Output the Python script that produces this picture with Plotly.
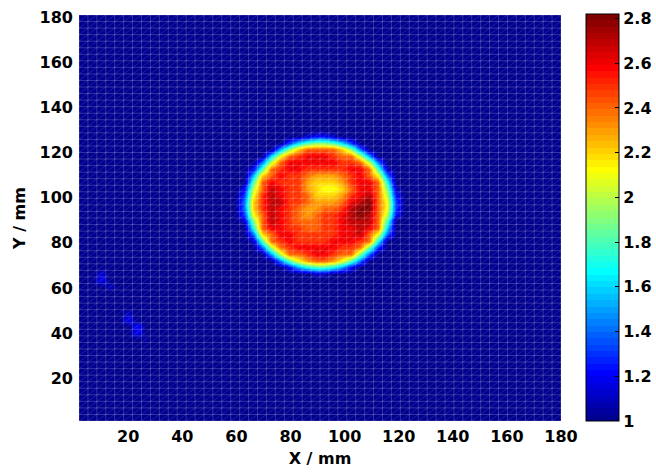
import numpy as np
import plotly.graph_objects as go

# ---- measurement grid (mm) ----
x_lo, x_hi, n_cols = 1.8, 180.0, 54
y_lo, y_hi, n_rows = 1.0, 181.0, 62
x_edges = np.linspace(x_lo, x_hi, n_cols + 1)
y_edges = np.linspace(y_lo, y_hi, n_rows + 1)
x_centers = (x_edges[:-1] + x_edges[1:]) / 2
y_centers = (y_edges[:-1] + y_edges[1:]) / 2

background_level = 1.0

# level key: '0' -> 1.0, '1' -> 1.1, ... 'I' -> 2.8
level_key = "0123456789ABCDEFGHI"

# disk region, rows listed bottom (y ~ 63 mm) to top (y ~ 130 mm),
# columns from x ~ 60 mm to x ~ 126 mm
disk_col0, disk_row0 = 17, 21
disk_rows = [
    "000000000000000000000",
    "000000000110000000000",
    "000000257887520000000",
    "0000048BDEEDB84000000",
    "00005AEEFGGFEE9400000",
    "0004AEFGGGGGFFE930000",
    "0018EFGFFFFGGGFE70000",
    "004CEGGFFFFFGGHEB4000",
    "007EGGFFEEFFGGHGE6000",
    "019EHGFEEEFFGHHHE8000",
    "03BEHGFEDEFFGHIHEA200",
    "04CFHGFEDDEEFHIIEB300",
    "04CFHHFFEDDDEGHIEB300",
    "03BFHGFFECCCDFGHEA200",
    "02AEHGFFDCBBCEGGE9100",
    "008EGFFFDCCCDFGGE7000",
    "005CEGFFEDDDEFGEB4000",
    "0028EFGGFFFFFGGE81000",
    "0004AEGGGGGGFFEA40000",
    "00006BEFGGGFEEA500000",
    "0000059CEEEEC94000000",
    "000000368998630000000",
    "000000001221000000000",
    "000000000000000000000",
]

# faint streaks in the lower-left corner
speck_cols = [2, 2, 3, 5, 5, 6, 6, 7]
speck_rows = [22, 21, 20, 16, 15, 14, 13, 12]
speck_vals = [1.15, 1.2, 1.1, 1.1, 1.2, 1.25, 1.2, 1.05]

x_ticks = [20, 40, 60, 80, 100, 120, 140, 160, 180]
y_ticks = [20, 40, 60, 80, 100, 120, 140, 160, 180]
cbar_ticks = [1.0, 1.2, 1.4, 1.6, 1.8, 2.0, 2.2, 2.4, 2.6, 2.8]
cbar_labels = ["1", "1.2", "1.4", "1.6", "1.8", "2", "2.2", "2.4", "2.6", "2.8"]
z_min, z_max = 1.0, 2.82

# ---- assemble the field ----
z = np.full((n_rows, n_cols), background_level)
for r, row in enumerate(disk_rows):
    for c, ch in enumerate(row):
        z[disk_row0 + r, disk_col0 + c] = 1.0 + 0.1 * level_key.index(ch)
for c, r, v in zip(speck_cols, speck_rows, speck_vals):
    z[r, c] = v


# ---- MATLAB-style jet(64) colormap, discrete ----
def jet(m=64):
    n = int(np.ceil(m / 4))
    u = np.concatenate([np.arange(1, n + 1) / n, np.ones(n - 1), np.arange(n, 0, -1) / n])
    g = int(np.ceil(n / 2)) - (1 if m % 4 == 1 else 0) + np.arange(1, len(u) + 1)
    r = g + n
    b = g - n
    J = np.zeros((m, 3))
    for k, val in zip(r, u):
        if 1 <= k <= m:
            J[k - 1, 0] = val
    for k, val in zip(g, u):
        if 1 <= k <= m:
            J[k - 1, 1] = val
    for k, val in zip(b, u):
        if 1 <= k <= m:
            J[k - 1, 2] = val
    return J


cmap = jet(64)
colorscale = []
for i, (rr, gg, bb) in enumerate(cmap):
    col = f"rgb({int(round(rr * 255))},{int(round(gg * 255))},{int(round(bb * 255))})"
    colorscale.append([i / 64, col])
    colorscale.append([(i + 1) / 64, col])

font_family = "DejaVu Sans, Arial, Helvetica, sans-serif"
axis_font = dict(family=font_family, size=16, color="black", weight="bold")

# plot area in pixels
fig_w, fig_h = 656, 472
pl, pr, pt, pb = 79, 561, 15, 421
plot_w, plot_h = pr - pl, pb - pt

fig = go.Figure()
fig.add_trace(go.Heatmap(
    x=x_centers, y=y_centers, z=z,
    zmin=z_min, zmax=z_max, colorscale=colorscale,
    zsmooth="best", hoverinfo="skip",
    colorbar=dict(
        xref="container", x=586 / fig_w, xanchor="left", xpad=0,
        y=0, yanchor="bottom", ypad=0,
        len=(pb - 14) / plot_h, lenmode="fraction",
        thickness=33, thicknessmode="pixels",
        outlinewidth=1, outlinecolor="black",
        tickvals=cbar_ticks, ticktext=cbar_labels,
        ticks="inside", ticklen=4, tickcolor="black",
        tickfont=axis_font,
    ),
))

# cell edges of the faceted surface
gx, gy = [], []
for xe in x_edges:
    gx += [xe, xe, None]
    gy += [y_lo, y_hi, None]
for ye in y_edges:
    gx += [x_lo, x_hi, None]
    gy += [ye, ye, None]
fig.add_trace(go.Scatter(x=gx, y=gy, mode="lines", hoverinfo="skip",
                         line=dict(color="rgba(255,255,255,0.2)", width=1)))

# triangle split of each facet
dx, dy = [], []
for d in range(-(n_rows - 1), n_cols):
    i0 = max(0, d)
    i1 = min(n_cols, n_rows + d)
    if i1 <= i0:
        continue
    dx += [x_edges[i0], x_edges[i1], None]
    dy += [y_edges[i0 - d], y_edges[i1 - d], None]
fig.add_trace(go.Scatter(x=dx, y=dy, mode="lines", hoverinfo="skip",
                         line=dict(color="rgba(255,255,255,0.12)", width=1)))

fig.update_layout(
    width=fig_w, height=fig_h,
    margin=dict(l=pl, r=fig_w - pr, t=pt, b=fig_h - pb, autoexpand=False),
    paper_bgcolor="white", plot_bgcolor="white",
    showlegend=False,
    font=axis_font,
    xaxis=dict(range=[x_lo, x_hi], tickvals=x_ticks, showgrid=False, zeroline=False,
               showline=False, ticks="", tickfont=axis_font, ticklabelstandoff=4,
               title=dict(text="X / mm", font=axis_font, standoff=7)),
    yaxis=dict(range=[y_lo, y_hi], tickvals=y_ticks, showgrid=False, zeroline=False,
               showline=False, ticks="", tickfont=axis_font, ticklabelstandoff=5,
               title=dict(text="Y / mm", font=axis_font, standoff=9)),
)

fig.write_html("out.html")
